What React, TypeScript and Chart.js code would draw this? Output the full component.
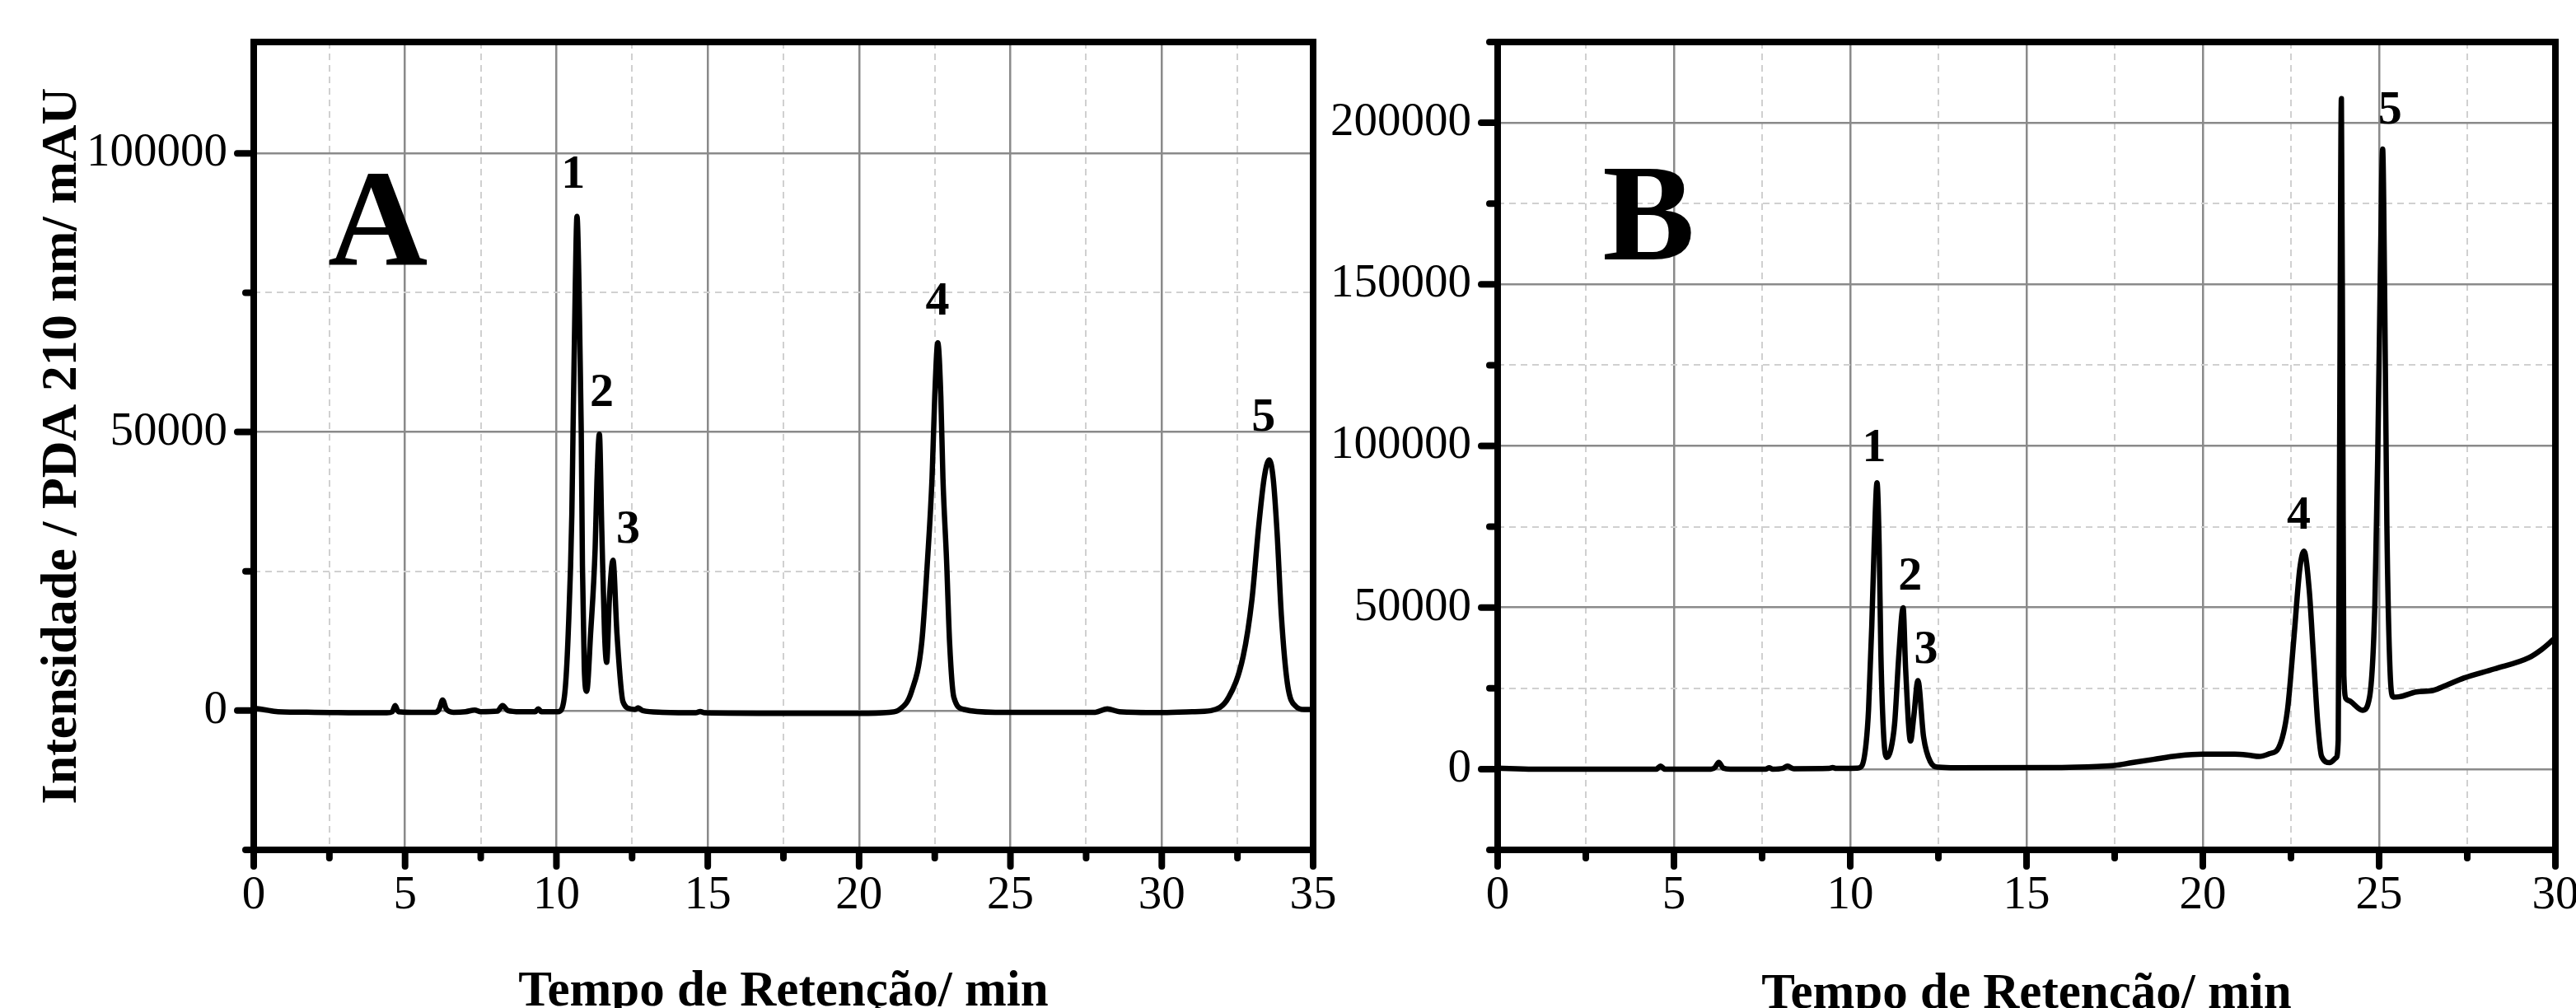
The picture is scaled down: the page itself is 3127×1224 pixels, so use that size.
import React, { useEffect, useRef } from 'react';
import { Chart, registerables } from 'chart.js';

Chart.register(...registerables);

const FONT = "'Liberation Serif', 'Times New Roman', serif";

// ---------- Panel A data ----------
const timeA = [
  0, 0.3, 0.8, 2.0, 3.9, 4.4, 4.58, 4.67, 4.78, 5.2, 6.0, 6.13, 6.24, 6.36, 6.6, 7.0, 7.3, 7.5,
  8.05, 8.22, 8.4, 8.8, 9.3, 9.4, 9.5, 10.05, 10.17, 10.3, 10.39, 10.51, 10.55, 10.62, 10.68,
  10.75, 10.82, 10.86, 10.92, 11.0, 11.13, 11.28, 11.34, 11.42, 11.5, 11.59, 11.66, 11.75,
  11.87, 12.0, 12.2, 12.47, 12.6, 12.7, 12.85, 13.5, 14.6, 14.75, 14.9, 17.5, 20.0, 21.0,
  21.34, 21.73, 22.07, 22.26, 22.41, 22.5, 22.6, 22.7, 22.77, 22.89, 22.99, 23.13, 23.47,
  24.5, 27.8, 28.2, 28.6, 29.9, 31.0, 31.63, 32.21, 32.69, 32.98, 33.2, 33.39, 33.55, 33.68,
  33.81, 33.95, 34.15, 34.44, 34.7, 35.0,
];
const intensityA = [
  400, 200, -200, -300, -400, -400, -200, 900, -200, -300, -300, 300, 1900, 300, -300, -200, 100, -200,
  -100, 900, 0, -200, -200, 300, -200, -200, 200, 4500, 13850, 35240, 50500, 75000, 88700,
  75000, 50500, 26000, 7750, 3460, 13850, 29100, 41300, 49600, 32200, 13850, 8660, 20000,
  27000, 13850, 1600, 300, 200, 500, 0, -300, -400, -150, -400, -500, -500, -300,
  200, 3390, 12230, 26970, 41700, 56440, 66000, 56440, 41700, 26970, 12230, 2400, 200,
  -300, -300, 300, -200, -350, -200, 0, 2400, 9770, 20000, 33000, 42000, 45000, 41700,
  31880, 17140, 4860, 700, 200, 200,
];

// ---------- Panel B data ----------
const timeB = [
  0, 1.0, 4.5, 4.62, 4.74, 6.05, 6.17, 6.27, 6.4, 6.6, 7.6, 7.7, 7.8, 8.08, 8.22, 8.4, 9.4, 9.5,
  9.6, 10.2, 10.33, 10.45, 10.52, 10.61, 10.68, 10.76, 10.82, 10.87, 10.95, 11.04, 11.15,
  11.26, 11.38, 11.5, 11.57, 11.71, 11.8, 11.92, 12.08, 12.27, 12.5, 13.0, 16.0, 17.0, 17.5,
  18.0, 18.6, 19.3, 20.0, 20.9, 21.3, 21.6, 21.9, 22.15, 22.4, 22.59, 22.75, 22.87, 23.02,
  23.14, 23.26, 23.37, 23.6, 23.78, 23.84, 23.88, 23.93, 23.97, 24.0, 24.07, 24.19, 24.53,
  24.73, 24.88, 24.96, 25.04, 25.1, 25.16, 25.22, 25.31, 25.4, 25.56, 26.05, 26.54, 26.9,
  27.4, 28.27, 29.26, 29.62, 29.95, 30.0,
];
const intensityB = [
  300, 0, 0, 900, 0, 0, 600, 2100, 300, 0, 0, 400, 0, 200, 900, 100, 200, 500,
  200, 300, 1000, 8000, 18470, 43980, 69490, 88620, 69490, 35480, 9970, 3600, 6000,
  14210, 35480, 49930, 31220, 8700, 16000, 27400, 9970, 2320, 600, 400, 500, 800, 1100,
  2000, 3000, 4100, 4600, 4600, 4300, 3900, 4800, 6610, 18210, 41450, 61960, 67450, 55130,
  34620, 14130, 3880, 2000, 3500, 9000, 100000, 207500, 110000, 29000, 21640, 20940, 18210,
  22300, 51020, 96150, 157650, 191840, 143980, 75610, 30540, 22300, 22370, 23880, 24380, 25920,
  28160, 31000, 34540, 37100, 40150, 40600,
];

// ---------- Ticks ----------
const xTicksA = [0, 2.5, 5, 7.5, 10, 12.5, 15, 17.5, 20, 22.5, 25, 27.5, 30, 32.5, 35];
const yTicksA = [-25000, 0, 25000, 50000, 75000, 100000];
const xTicksB = [0, 2.5, 5, 7.5, 10, 12.5, 15, 17.5, 20, 22.5, 25, 27.5, 30];
const yTicksB = [-25000, 0, 25000, 50000, 75000, 100000, 125000, 150000, 175000, 200000, 225000];

// ---------- Peak labels ----------
const peakNames = ['1', '2', '3', '4', '5'];
const peakXA = [10.55, 11.5, 12.37, 22.59, 33.36];
const peakYA = [96600, 57500, 32900, 73900, 53000];
const peakXB = [10.68, 11.7, 12.15, 22.72, 25.31];
const peakYB = [100200, 60400, 37600, 79200, 204600];

const X_TITLE = 'Tempo de Retenção/ min';
const Y_TITLE = 'Intensidade / PDA 210 nm/ mAU';

type Panel = {
  times: number[];
  values: number[];
  xMax: number;
  yMin: number;
  yMax: number;
  xTicks: number[];
  yTicks: number[];
  yAxisWidth: number;
  padRight: number;
  peakX: number[];
  peakY: number[];
  letter: string;
  letterX: number;
  letterY: number;
  yTitle: string | null;
  xTitleBaseline: number;
};

const panelA: Panel = {
  times: timeA, values: intensityA, xMax: 35, yMin: -25000, yMax: 120000,
  xTicks: xTicksA, yTicks: yTicksA, yAxisWidth: 308, padRight: 66,
  peakX: peakXA, peakY: peakYA,
  letter: 'A', letterX: 4.1, letterY: 88100, yTitle: Y_TITLE, xTitleBaseline: 1221,
};
const panelB: Panel = {
  times: timeB, values: intensityB, xMax: 30, yMin: -25000, yMax: 225000,
  xTicks: xTicksB, yTicks: yTicksB, yAxisWidth: 218, padRight: 25,
  peakX: peakXB, peakY: peakYB,
  letter: 'B', letterX: 4.28, letterY: 171800, yTitle: null, xTitleBaseline: 1224,
};

function decorPlugin(p: Panel) {
  return {
    id: 'decor',
    afterDraw(chart: any) {
      const { ctx, chartArea: a } = chart;
      const x = chart.scales.x;
      const y = chart.scales.y;
      ctx.save();
      ctx.strokeStyle = '#000';
      ctx.fillStyle = '#000';
      // tick marks
      ctx.lineCap = 'round';
      ctx.lineWidth = 8;
      p.xTicks.forEach((v) => {
        const px = x.getPixelForValue(v);
        const len = v % 5 === 0 ? 20 : 10;
        ctx.beginPath();
        ctx.moveTo(px, a.bottom);
        ctx.lineTo(px, a.bottom + len);
        ctx.stroke();
      });
      p.yTicks.forEach((v) => {
        const py = y.getPixelForValue(v);
        const len = v % 50000 === 0 ? 20 : 10;
        ctx.beginPath();
        ctx.moveTo(a.left, py);
        ctx.lineTo(a.left - len, py);
        ctx.stroke();
      });
      // frame
      ctx.lineCap = 'butt';
      ctx.lineWidth = 8;
      ctx.strokeRect(a.left, a.top, a.right - a.left, a.bottom - a.top);
      // peak labels
      ctx.textAlign = 'center';
      ctx.textBaseline = 'alphabetic';
      ctx.font = `bold 58px ${FONT}`;
      peakNames.forEach((n, i) => {
        ctx.fillText(n, x.getPixelForValue(p.peakX[i]), y.getPixelForValue(p.peakY[i]) + 19);
      });
      // panel letter
      ctx.font = `bold 168px ${FONT}`;
      ctx.fillText(p.letter, x.getPixelForValue(p.letterX), y.getPixelForValue(p.letterY) + 55);
      // x title
      ctx.font = `bold 61px ${FONT}`;
      ctx.fillText(X_TITLE, (a.left + a.right) / 2, p.xTitleBaseline);
      // y title
      if (p.yTitle) {
        ctx.font = `bold 62px ${FONT}`;
        ctx.translate(92, (a.top + a.bottom) / 2);
        ctx.rotate(-Math.PI / 2);
        ctx.fillText(p.yTitle, 0, 0);
      }
      ctx.restore();
    },
  };
}

function buildConfig(p: Panel): any {
  return {
    type: 'line',
    data: {
      datasets: [
        {
          data: p.times.map((t, i) => ({ x: t, y: p.values[i] })),
          borderColor: '#000',
          borderWidth: 6.5,
          pointRadius: 0,
          fill: false,
          cubicInterpolationMode: 'monotone',
          borderJoinStyle: 'round',
          borderCapStyle: 'round',
        },
      ],
    },
    options: {
      animation: false,
      responsive: false,
      devicePixelRatio: 1,
      layout: { padding: { left: 0, top: 51, right: p.padRight, bottom: 92 } },
      plugins: { legend: { display: false }, tooltip: { enabled: false } },
      scales: {
        x: {
          type: 'linear',
          min: 0,
          max: p.xMax,
          afterBuildTicks: (s: any) => {
            s.ticks = p.xTicks.map((v) => ({ value: v }));
          },
          afterFit: (s: any) => {
            s.height = 100;
            s.paddingLeft = 0;
            s.paddingRight = 0;
          },
          ticks: {
            autoSkip: false,
            maxRotation: 0,
            padding: 22,
            color: '#000',
            font: { family: FONT, size: 57 },
            callback: (v: number) => (v % 5 === 0 ? String(v) : ''),
          },
          grid: {
            drawTicks: false,
            color: (c: any) => (c.tick && c.tick.value % 5 === 0 ? '#8a8a8a' : '#d0d0d0'),
            lineWidth: (c: any) => (c.tick && c.tick.value % 5 === 0 ? 2.5 : 2),
          },
          border: {
            display: false,
            dash: (c: any) => (c.tick && c.tick.value % 5 !== 0 ? [8, 6] : []),
          },
        },
        y: {
          type: 'linear',
          min: p.yMin,
          max: p.yMax,
          afterBuildTicks: (s: any) => {
            s.ticks = p.yTicks.map((v) => ({ value: v }));
          },
          afterFit: (s: any) => {
            s.width = p.yAxisWidth;
            s.paddingTop = 0;
            s.paddingBottom = 0;
          },
          ticks: {
            autoSkip: false,
            padding: 32,
            color: '#000',
            font: { family: FONT, size: 57 },
            callback: (v: number) => (v % 50000 === 0 ? String(v) : ''),
          },
          grid: {
            drawTicks: false,
            color: (c: any) => (c.tick && c.tick.value % 50000 === 0 ? '#8a8a8a' : '#d0d0d0'),
            lineWidth: (c: any) => (c.tick && c.tick.value % 50000 === 0 ? 2.5 : 2),
          },
          border: {
            display: false,
            dash: (c: any) => (c.tick && c.tick.value % 50000 !== 0 ? [8, 6] : []),
          },
        },
      },
    },
    plugins: [decorPlugin(p)],
  };
}

function ChartCanvas({ panel, left, width }: { panel: Panel; left: number; width: number }) {
  const ref = useRef<HTMLCanvasElement | null>(null);
  useEffect(() => {
    if (!ref.current) return;
    const chart = new Chart(ref.current, buildConfig(panel));
    return () => chart.destroy();
  }, [panel]);
  return (
    <canvas
      ref={ref}
      width={width}
      height={1224}
      style={{ position: 'absolute', left, top: 0, width, height: 1224 }}
    />
  );
}

export default function App() {
  return (
    <div
      style={{
        position: 'fixed',
        left: 0,
        top: 0,
        width: 3127,
        height: 1224,
        overflow: 'hidden',
        background: '#fff',
      }}
    >
      <ChartCanvas panel={panelA} left={0} width={1660} />
      <ChartCanvas panel={panelB} left={1600} width={1527} />
    </div>
  );
}
